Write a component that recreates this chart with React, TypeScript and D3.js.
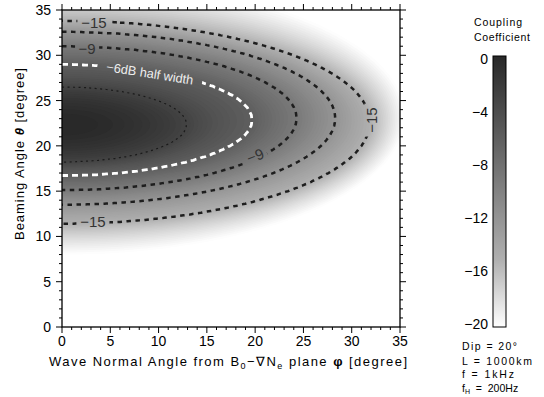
import React, { useMemo } from "react";
import * as d3 from "d3";

// Contour readings from the picture: dB level, φ at the tip, θ upper / lower at φ = 0
const levels = [-3, -6, -9, -12, -15, -20];
const phiTip = [12.9, 19.7, 24.3, 28.3, 31.9, 35.5];
const thetaUpper = [26.5, 29.0, 31.0, 32.6, 33.8, 38.5];
const thetaLower = [18.2, 16.7, 15.1, 13.5, 11.4, 8.0];

const lineLevels = [-15, -12, -9, -6, -3];
const xTicks = [0, 5, 10, 15, 20, 25, 30, 35];
const yTicks = [0, 5, 10, 15, 20, 25, 30, 35];
const minorTicks = d3.range(0, 36, 1);
const cbTicks = [0, -4, -8, -12, -16, -20];

const contourLabels = [
  { text: "\u221215", phi: 3.3, theta: 33.6, angle: 0, w: 33, h: 13, fill: "#333", fs: 15 },
  { text: "\u22129", phi: 2.6, theta: 30.8, angle: 0, w: 24, h: 13, fill: "#333", fs: 15 },
  { text: "\u22126dB half width", phi: 9.1, theta: 28.0, angle: 9, w: 106, h: 13, fill: "#eee", fs: 12.8 },
  { text: "\u22129", phi: 20.0, theta: 18.9, angle: -22, w: 24, h: 13, fill: "#333", fs: 15 },
  { text: "\u221215", phi: 32.0, theta: 22.85, angle: -90, w: 33, h: 13, fill: "#333", fs: 15 },
  { text: "\u221215", phi: 3.2, theta: 11.6, angle: 0, w: 33, h: 13, fill: "#333", fs: 15 },
];

const FONT = "'Liberation Sans', Arial, Helvetica, sans-serif";

function field(phi: number, theta: number): number {
  const r = levels.map((_, i) => {
    const c = (thetaUpper[i] + thetaLower[i]) / 2;
    const b = (thetaUpper[i] - thetaLower[i]) / 2;
    return Math.hypot(phi / phiTip[i], (theta - c) / b);
  });
  if (r[0] <= 1) return levels[0] * r[0] * r[0];
  for (let i = 0; i < levels.length - 1; i++) {
    if (r[i + 1] <= 1) {
      const t = (r[i] - 1) / (r[i] - r[i + 1]);
      return levels[i] + t * (levels[i + 1] - levels[i]);
    }
  }
  return levels[levels.length - 1] - 12 * (r[r.length - 1] - 1);
}

export default function App() {
  const x = d3.scaleLinear().domain([0, 35]).range([62, 400]);
  const y = d3.scaleLinear().domain([0, 35]).range([327, 10]);
  const cb = d3.scaleLinear().domain([0, -20]).range([59, 324]);
  const gray = d3.scaleLinear().domain([-20, -15, 0]).range([255, 175, 40]).clamp(true);
  const color = (v: number) => {
    const g = Math.round(gray(v));
    return `rgb(${g},${g},${g})`;
  };

  const { bands, lines } = useMemo(() => {
    const step = 0.2, p0 = -1, t0 = -1;
    const n = Math.round(38 / step) + 1;
    const m = Math.round(41 / step) + 1;
    const vals: number[] = new Array(n * m);
    for (let j = 0; j < m; j++)
      for (let i = 0; i < n; i++) vals[j * n + i] = field(p0 + i * step, t0 + j * step);
    const proj = d3.geoTransform({
      point: function (px: number, py: number) {
        (this as any).stream.point(x(p0 + (px - 0.5) * step), y(t0 + (py - 0.5) * step));
      },
    });
    const path = d3.geoPath(proj);
    const ths = d3.range(-20, 0.3, 0.25);
    const bands = d3.contours().size([n, m]).thresholds(ths)(vals)
      .map((c) => ({ d: path(c as any) || "", v: c.value }));
    const lines = d3.contours().size([n, m]).thresholds(lineLevels)(vals)
      .map((c) => ({ d: path(c as any) || "", v: c.value }));
    return { bands, lines };
  }, []);

  const lineStyle = (v: number) => {
    if (v === -3) return { stroke: "#1a1a1a", sw: 1.2, dash: "2 3.5" };
    if (v === -6) return { stroke: "#ffffff", sw: 2.8, dash: "6 4" };
    return { stroke: "#1e1e1e", sw: 2.5, dash: "4.5 4.5" };
  };

  const gradStops = d3.range(0, 21, 1).map((k) => ({ off: k / 20, c: color(-k) }));

  return (
    <svg width={544} height={397} style={{ position: "absolute", left: 0, top: 0, background: "#fff" }} fontFamily={FONT}>
      <defs>
        <clipPath id="plotclip">
          <rect x={62} y={10} width={338} height={317} />
        </clipPath>
        <mask id="lblmask" maskUnits="userSpaceOnUse" x={0} y={0} width={544} height={397}>
          <rect x={0} y={0} width={544} height={397} fill="#fff" />
          {contourLabels.map((l, i) => (
            <rect key={i} x={-l.w / 2} y={-l.h / 2} width={l.w} height={l.h} fill="#000"
              transform={`translate(${x(l.phi)},${y(l.theta)}) rotate(${l.angle})`} />
          ))}
        </mask>
        <linearGradient id="cbgrad" x1="0" y1="0" x2="0" y2="1">
          {gradStops.map((s, i) => (
            <stop key={i} offset={s.off} stopColor={s.c} />
          ))}
        </linearGradient>
      </defs>

      <g clipPath="url(#plotclip)">
        {bands.map((b, i) => (
          <path key={i} d={b.d} fill={color(b.v + 0.125)} stroke="none" />
        ))}
        <g mask="url(#lblmask)">
          {lines.map((l, i) => {
            const s = lineStyle(l.v);
            return <path key={i} d={l.d} fill="none" stroke={s.stroke} strokeWidth={s.sw} strokeDasharray={s.dash} />;
          })}
        </g>
        {contourLabels.map((l, i) => (
          <text key={i} transform={`translate(${x(l.phi)},${y(l.theta)}) rotate(${l.angle})`}
            textAnchor="middle" dominantBaseline="central" fontSize={l.fs} fill={l.fill}>
            {l.text}
          </text>
        ))}
      </g>

      {/* frame */}
      <rect x={62} y={10} width={338} height={317} fill="none" stroke="#000" strokeWidth={1.3} />

      {/* ticks */}
      {minorTicks.map((t) => {
        const major = t % 5 === 0;
        const len = major ? 6 : 3;
        return (
          <g key={t} stroke="#000" strokeWidth={1}>
            <line x1={x(t)} x2={x(t)} y1={327} y2={327 + len} />
            <line x1={x(t)} x2={x(t)} y1={10} y2={10 - len} />
            <line y1={y(t)} y2={y(t)} x1={62} x2={62 - len} />
            <line y1={y(t)} y2={y(t)} x1={400} x2={400 + len} />
          </g>
        );
      })}
      {xTicks.map((t) => (
        <text key={t} x={x(t)} y={346} textAnchor="middle" fontSize={14} fill="#000">{t}</text>
      ))}
      {yTicks.map((t) => (
        <text key={t} x={51} y={y(t) + 5} textAnchor="end" fontSize={14} fill="#000">{t}</text>
      ))}

      {/* axis titles */}
      <text x={228} y={366} textAnchor="middle" fontSize={13} fill="#000" textLength={358} lengthAdjust="spacing">
        Wave Normal Angle from B<tspan fontSize={9} dy={3}>0</tspan><tspan dy={-3}>{"\u2212\u2207N"}</tspan>
        <tspan fontSize={9} dy={3}>e</tspan><tspan dy={-3}> plane </tspan>
        <tspan fontWeight="bold">{"\u03c6"}</tspan> [degree]
      </text>
      <text transform="translate(24,154) rotate(-90)" textAnchor="middle" fontSize={13} fill="#000" textLength={172} lengthAdjust="spacing">
        Beaming Angle <tspan fontWeight="bold" fontStyle="italic">{"\u03b8"}</tspan> [degree]
      </text>

      {/* colorbar */}
      <text x={474} y={26} fontSize={10.5} fill="#000" textLength={48} lengthAdjust="spacing">Coupling</text>
      <text x={474} y={41} fontSize={10.5} fill="#000" textLength={56} lengthAdjust="spacing">Coefficient</text>
      <rect x={493} y={56} width={13} height={271} fill="url(#cbgrad)" stroke="#000" strokeWidth={1} />
      {cbTicks.map((t) => (
        <text key={t} x={488} y={cb(t) + 5} textAnchor="end" fontSize={14} fill="#000">
          {t === 0 ? "0" : "\u2212" + Math.abs(t)}
        </text>
      ))}

      <g fontSize={10.5} fill="#000">
        <text x={462} y={350} xmlSpace="preserve" textLength={55} lengthAdjust="spacing">{"Dip = 20\u00b0"}</text>
        <text x={462} y={365} xmlSpace="preserve" textLength={70} lengthAdjust="spacing">{"L = 1000km"}</text>
        <text x={462} y={378} xmlSpace="preserve" textLength={52} lengthAdjust="spacing">{"f = 1kHz"}</text>
        <text x={462} y={392} xmlSpace="preserve">f<tspan fontSize={7} dy={2}>H</tspan><tspan dy={-2} style={{ whiteSpace: "pre" }}>{"  =  200Hz"}</tspan></text>
      </g>
    </svg>
  );
}
